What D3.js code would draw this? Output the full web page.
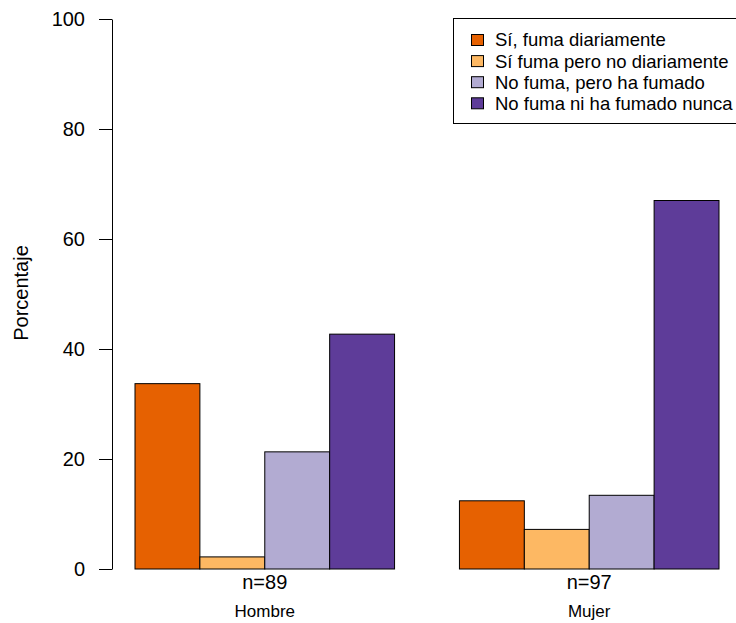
<!DOCTYPE html>
<html>
<head>
<meta charset="utf-8">
<script src="https://cdn.jsdelivr.net/npm/d3@7"></script>
<style>
  html, body { margin: 0; padding: 0; background: #fff; }
  svg { display: block; font-family: "Liberation Sans", Arial, sans-serif; }
</style>
</head>
<body>
<svg id="chart" width="736" height="623"></svg>
<script>
const groups = ["Hombre", "Mujer"];
const groupN = ["n=89", "n=97"];
const seriesNames = ["Sí, fuma diariamente", "Sí fuma pero no diariamente", "No fuma, pero ha fumado", "No fuma ni ha fumado nunca"];
const hombreValues = [33.7, 2.2, 21.3, 42.7];
const mujerValues = [12.4, 7.2, 13.4, 67.0];
const yTicks = [0, 20, 40, 60, 80, 100];
const colors = ["#E66101", "#FDB863", "#B2ABD2", "#5E3C99"];

const values = [hombreValues, mujerValues];
const svg = d3.select("#chart");

// R barplot layout: bar units, group of 4 bars, 1 unit gap before each group
const x = d3.scaleLinear().domain([1, 10]).range([135, 719]);
const y = d3.scaleLinear().domain([0, 100]).range([569, 19]);

const bars = [];
values.forEach((vals, g) => {
  vals.forEach((v, i) => {
    const left = 1 + g * 5 + i;
    bars.push({ g, i, v, left });
  });
});

svg.append("g").selectAll("rect").data(bars).join("rect")
  .attr("x", d => x(d.left))
  .attr("width", d => x(d.left + 1) - x(d.left))
  .attr("y", d => y(d.v))
  .attr("height", d => y(0) - y(d.v))
  .attr("fill", d => colors[d.i])
  .attr("stroke", "#000")
  .attr("stroke-width", 1);

// Y axis
const yAxis = d3.axisLeft(y).tickValues(yTicks).tickSize(13).tickSizeOuter(0).tickPadding(14);
const ya = svg.append("g").attr("transform", "translate(112,0)").call(yAxis);
ya.selectAll("text").attr("font-size", 20).attr("font-family", "Liberation Sans, Arial, sans-serif").attr("fill", "#000");
ya.selectAll("line").attr("stroke", "#000");
ya.select(".domain").attr("stroke", "#000");

// Y label
svg.append("text")
  .attr("transform", "translate(28,293) rotate(-90)")
  .attr("text-anchor", "middle")
  .attr("font-size", 20)
  .text("Porcentaje");

// Group labels
groups.forEach((gname, g) => {
  const cx = (x(1 + g * 5) + x(5 + g * 5)) / 2;
  svg.append("text").attr("x", cx).attr("y", 589).attr("text-anchor", "middle")
    .attr("font-size", 20).text(groupN[g]);
  svg.append("text").attr("x", cx).attr("y", 617).attr("text-anchor", "middle")
    .attr("font-size", 17).text(gname);
});

// Legend
const leg = svg.append("g");
leg.append("rect").attr("x", 453.5).attr("y", 18.5).attr("width", 300).attr("height", 105)
  .attr("fill", "#fff").attr("stroke", "#000");
seriesNames.forEach((s, i) => {
  const cy = 40 + i * 21.1;
  leg.append("rect").attr("x", 471.5).attr("y", cy - 5.5).attr("width", 12).attr("height", 11)
    .attr("fill", colors[i]).attr("stroke", "#000");
  leg.append("text").attr("x", 495).attr("y", cy).attr("dy", "0.35em")
    .attr("font-size", 18.5).text(s);
});
</script>
</body>
</html>
